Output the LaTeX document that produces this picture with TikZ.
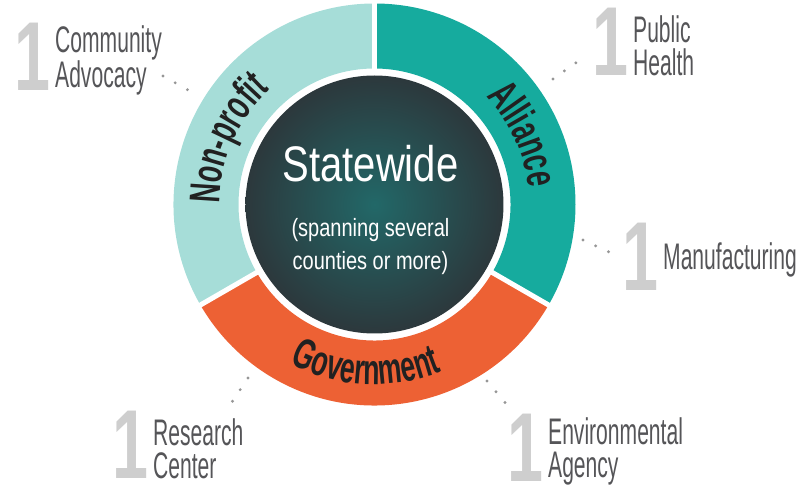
\documentclass[tikz,border=0pt]{standalone}
\usepackage{fontspec}
\usetikzlibrary{positioning,decorations.text}
\setmainfont{Liberation Sans}
\newfontfamily\orgfont{Liberation Sans}[FakeStretch=0.57]
\newfontfamily\countfont{Liberation Sans}[FakeStretch=0.66]
\newfontfamily\ringfont{Liberation Sans}[FakeStretch=0.62]
\newfontfamily\hubfont{Liberation Sans}[FakeStretch=0.8]
\newcommand\orgtype{\orgfont\fontsize{37}{33}\selectfont}
\newcommand\counttype{\countfont\bfseries\fontsize{98}{98}\selectfont}
\newcommand\ringtype{\ringfont\bfseries\fontsize{43}{43}\selectfont}
\definecolor{nonprofitteal}{RGB}{166,221,216}
\definecolor{allianceteal}{RGB}{22,171,158}
\definecolor{govorange}{RGB}{237,97,52}
\definecolor{hubinner}{RGB}{34,104,104}
\definecolor{hubouter}{RGB}{44,56,60}
\definecolor{ringtext}{RGB}{33,33,33}
\definecolor{labelgray}{RGB}{85,85,88}
\definecolor{countgray}{RGB}{206,206,206}
\definecolor{dotgray}{RGB}{150,150,150}

\begin{document}
\begin{tikzpicture}[x=1pt, y=1pt,
  ringgap/.style={draw=white, line width=5pt},
  hub/.style={circle, minimum size=258pt, inner sep=0pt,
              shading=radial, inner color=hubinner, outer color=hubouter},
  hubtitle/.style={font=\hubfont\fontsize{50}{50}\selectfont, text=white, inner sep=0pt},
  hubnote/.style={font=\hubfont\fontsize{25}{33}\selectfont, text=white,
                  align=center, inner sep=0pt},
  ringlabel/.style={decorate, decoration={text along path, text align=center,
                    text color=ringtext, text={|\ringtype|#1}}},
  orgtext/.style={font=\orgtype, text=labelgray, align=left,
                  inner sep=0pt, anchor=north west},
  orgcount/.style={font=\counttype, text=countgray, inner sep=0pt, yshift=3pt},
  link/.style={draw=dotgray, line width=3.2pt, line cap=round,
               dash pattern=on 0pt off 14pt}
]
\useasboundingbox (-374.5,-282.5) rectangle (429.5,204.5);

% ring
\fill[nonprofitteal] (90:136) arc[start angle=90, end angle=210, radius=136]
  -- (210:201) arc[start angle=210, end angle=90, radius=201] -- cycle;
\fill[govorange] (210:136) arc[start angle=210, end angle=330, radius=136]
  -- (330:201) arc[start angle=330, end angle=210, radius=201] -- cycle;
\fill[allianceteal] (330:136) arc[start angle=330, end angle=450, radius=136]
  -- (90:201) arc[start angle=450, end angle=330, radius=201] -- cycle;
\draw[ringgap] (90:128) -- (90:206);
\draw[ringgap] (210:128) -- (210:206);
\draw[ringgap] (330:128) -- (330:206);

\path[ringlabel=Non-profit] (206:155) arc[start angle=206, end angle=106, radius=155];
\path[ringlabel=Alliance] (75:155) arc[start angle=75, end angle=-25, radius=155];
\path[ringlabel=Government] (217:180) arc[start angle=217, end angle=317, radius=180];

% center
\node[hub] (hub) at (0,0) {};
\node[hubtitle, anchor=base] (title) at (-4,22.5) {Statewide};
\node[hubnote, below=35pt of title] (scope) {(spanning several\\counties or more)};

% dotted links
\coordinate (advocacy-a) at (-211.5,128.5);
\coordinate (advocacy-b) at (-186.5,114.5);
\coordinate (health-a) at (178.5,125.5);
\coordinate (health-b) at (202.5,142.5);
\coordinate (manuf-a) at (208.5,-35.5);
\coordinate (manuf-b) at (234.5,-47.5);
\coordinate (research-a) at (-126.5,-173.5);
\coordinate (research-b) at (-142.5,-197.5);
\coordinate (agency-a) at (112.5,-176.5);
\coordinate (agency-b) at (132.5,-200.5);
\draw[link] (advocacy-a) -- (advocacy-b);
\draw[link] (health-a) -- (health-b);
\draw[link] (manuf-a) -- (manuf-b);
\draw[link] (research-a) -- (research-b);
\draw[link] (agency-a) -- (agency-b);

% organisations
\node[orgtext] (advocacy) at (-319.5,179.5) {Community\\Advocacy};
\node[orgcount, left=4pt of advocacy] (advocacy-n) {1};
\node[orgtext] (health) at (258.5,189.5) {Public\\Health};
\node[orgcount, left=4pt of health] (health-n) {1};
\node[orgtext] (manuf) at (288.5,-37.5) {Manufacturing};
\node[orgcount, left=4pt of manuf] (manuf-n) {1};
\node[orgtext] (research) at (-221.5,-213.5) {Research\\Center};
\node[orgcount, left=4pt of research] (research-n) {1};
\node[orgtext] (agency) at (173.5,-212.5) {Environmental\\Agency};
\node[orgcount, left=4pt of agency] (agency-n) {1};
\end{tikzpicture}
\end{document}
